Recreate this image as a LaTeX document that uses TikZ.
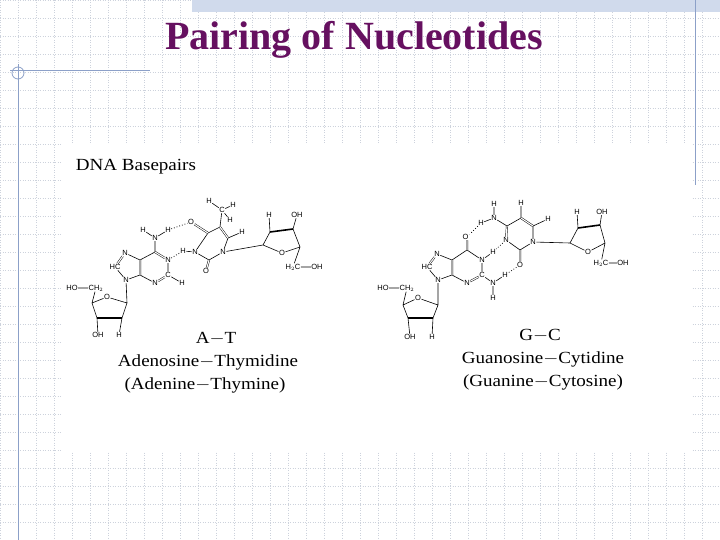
\documentclass[tikz,border=0pt]{standalone}
\usepackage{fontspec}
\setmainfont{Liberation Serif}
\newfontfamily\atomf{Liberation Sans}
\definecolor{titlec}{RGB}{102,16,96}
\definecolor{gridc}{RGB}{205,210,220}
\definecolor{linec}{RGB}{140,160,200}
\definecolor{bandc}{RGB}{208,218,236}
\tikzset{
  atom/.style={inner sep=0.4pt,font=\atomf\fontsize{7.5}{7.5}\selectfont},
  bond/.style={line width=0.6pt},
  dbl/.style={double,double distance=1.1pt,line width=0.45pt},
  hb/.style={dotted,line width=0.8pt},
  captext/.style={font=\fontsize{17}{19}\selectfont,xscale=1.12},
}
\begin{document}
\begin{tikzpicture}[x=1pt,y=-1pt]
\useasboundingbox (0,0) rectangle (720,540);
\fill[white] (0,0) rectangle (720,540);
% grid
\foreach \x in {0,18,...,720} \draw[gridc,dotted,line width=0.5pt] (\x,0) -- (\x,540);
\foreach \y in {0,18,...,540} \draw[gridc,dotted,line width=0.5pt] (0,\y) -- (720,\y);
\fill[bandc] (192,0) rectangle (720,12);
\draw[linec,line width=0.8pt] (695,0) -- (695,185);
\draw[linec,line width=0.8pt] (10,70) -- (150,70);
\draw[linec,line width=0.8pt] (18,64) -- (18,540);
\draw[linec,line width=0.8pt] (18,73) circle (6);
\node[font=\bfseries\fontsize{40}{44}\selectfont,text=titlec] (title) at (354,40) {Pairing of Nucleotides};
\fill[white] (62,143) rectangle (692,452);
\node[captext,anchor=west] (dna) at (72,167) {DNA Basepairs};
% ===== Adenine
\node[atom] (aN6) at (155,238) {N};
\node[atom] (aH6a) at (143,230) {H};
\node[atom] (aH6b) at (168,230) {H};
\coordinate (aC6) at (155,252);
\node[atom] (aN1) at (168,260) {N};
\node[atom] (aC2) at (168,275) {C};
\node[atom] (aH2) at (182,283) {H};
\node[atom] (aN3) at (155,283) {N};
\coordinate (aC4) at (140,275);
\coordinate (aC5) at (140,260);
\node[atom] (aN7) at (125,253) {N};
\node[atom] (aC8) at (115,267) {HC};
\node[atom] (aN9) at (126,280) {N};
\coordinate (as1) at (127,303);
\node[atom] (asO) at (107,297) {O};
\coordinate (as4) at (92,303);
\coordinate (as3) at (97,318);
\coordinate (as2) at (122,318);
\node[atom] (aCH2) at (96,288) {CH$_2$};
\node[atom] (aHO) at (72,288) {HO};
\node[atom] (aOH) at (98,335) {OH};
\node[atom] (aH3) at (119,335) {H};
\draw[bond] (aH6a)--(aN6)--(aH6b) (aN6)--(aC6) (aN1)--(aC2) (aN3)--(aC4) (aC6)--(aC5) (aC5)--(aN7) (aC8)--(aN9)--(aC4) (aC2)--(aH2);
\draw[dbl] (aC6)--(aN1) (aC2)--(aN3) (aC4)--(aC5) (aN7)--(aC8);
\draw[bond] (aN9)--(as1)--(as2) (as3)--(as4)--(asO)--(as1) (aHO)--(aCH2) (aCH2)--(as4) (as3)--(aOH) (as2)--(aH3);
\draw[line width=1.6pt] (as2)--(as3);
% ===== Thymine
\node[atom] (tN3) at (195,252) {N};
\node[atom] (tH3) at (183,251) {H};
\coordinate (tC4) at (208,233);
\node[atom] (tO4) at (191,222) {O};
\coordinate (tC5) at (220,227);
\node[atom] (tCM) at (222,210) {C};
\node[atom] (tHa) at (209,201) {H};
\node[atom] (tHb) at (233,205) {H};
\node[atom] (tHc) at (230,220) {H};
\coordinate (tC6) at (228,238);
\node[atom] (tH6) at (242,232) {H};
\node[atom] (tN1) at (223,252) {N};
\coordinate (tC2) at (209,260);
\node[atom] (tO2) at (206,271) {O};
\coordinate (ts1) at (263,245);
\node[atom] (tsO) at (282,253) {O};
\coordinate (ts4) at (300,247);
\coordinate (ts3) at (293,229);
\coordinate (ts2) at (270,232);
\node[atom] (tsH) at (269,215) {H};
\node[atom] (tsOH) at (297,215) {OH};
\node[atom] (tH2C) at (293,267) {H$_2$C};
\node[atom] (tOH5) at (317,267) {OH};
\draw[bond] (tH3)--(tN3)--(tC4)--(tC5) (tC6)--(tN1)--(tC2)--(tN3) (tC5)--(tCM) (tHa)--(tCM)--(tHb) (tCM)--(tHc) (tC6)--(tH6);
\draw[dbl] (tC5)--(tC6) (tC4)--(tO4) (tC2)--(tO2);
\draw[bond] (tN1)--(ts1)--(tsO)--(ts4)--(ts3) (ts2)--(ts1) (ts2)--(tsH) (ts3)--(tsOH) (ts4)--(tH2C)--(tOH5);
\draw[line width=1.6pt] (ts2)--(ts3);
\draw[hb] (aN1)--(tH3) (aH6b)--(tO4);
\node[captext] (lAT) at (216,339) {A$-$T};
\node[captext] (lAT2) at (208,362) {Adenosine$-$Thymidine};
\node[captext] (lAT3) at (205,385) {(Adenine$-$Thymine)};
% ===== Cytosine
\node[atom] (cN4) at (494,218) {N};
\node[atom] (cH4a) at (494,204) {H};
\node[atom] (cH4b) at (481,223) {H};
\coordinate (cC4) at (507,226);
\coordinate (cC5) at (521,218);
\node[atom] (cH5) at (521,203) {H};
\coordinate (cC6) at (533,226);
\node[atom] (cH6) at (548,219) {H};
\node[atom] (cN1) at (533,242) {N};
\coordinate (cC2) at (520,250);
\node[atom] (cO2) at (520,265) {O};
\node[atom] (cN3) at (506,240) {N};
\coordinate (cs1) at (570,243);
\node[atom] (csO) at (588,252) {O};
\coordinate (cs4) at (605,243);
\coordinate (cs3) at (600,225);
\coordinate (cs2) at (578,228);
\node[atom] (csH) at (577,212) {H};
\node[atom] (csOH) at (602,212) {OH};
\node[atom] (cH2C) at (601,263) {H$_2$C};
\node[atom] (cOH5) at (623,263) {OH};
\draw[bond] (cH4a)--(cN4)--(cH4b) (cN4)--(cC4) (cC4)--(cC5) (cC6)--(cN1)--(cC2)--(cN3) (cC5)--(cH5) (cC6)--(cH6);
\draw[dbl] (cC4)--(cN3) (cC5)--(cC6) (cC2)--(cO2);
\draw[bond] (cN1)--(cs1)--(csO)--(cs4)--(cs3) (cs2)--(cs1) (cs2)--(csH) (cs3)--(csOH) (cs4)--(cH2C)--(cOH5);
\draw[line width=1.6pt] (cs2)--(cs3);
% ===== Guanine
\node[atom] (gO6) at (467,237) {O$^{\cdot}$};
\coordinate (gC6) at (467,250);
\node[atom] (gN1) at (482,260) {N};
\node[atom] (gH1) at (493,252) {H};
\node[atom] (gC2) at (482,275) {C};
\node[atom] (gN2) at (493,283) {N};
\node[atom] (gH2a) at (505,275) {H};
\node[atom] (gH2b) at (493,298) {H};
\node[atom] (gN3) at (467,283) {N};
\coordinate (gC4) at (452,275);
\coordinate (gC5) at (452,260);
\node[atom] (gN7) at (437,254) {N};
\node[atom] (gC8) at (427,267) {HC};
\node[atom] (gN9) at (438,280) {N};
\coordinate (gs1) at (438,305);
\node[atom] (gsO) at (418,298) {O};
\coordinate (gs4) at (403,305);
\coordinate (gs3) at (408,318);
\coordinate (gs2) at (433,318);
\node[atom] (gCH2) at (407,288) {CH$_2$};
\node[atom] (gHO) at (383,288) {HO};
\node[atom] (gOH) at (410,337) {OH};
\node[atom] (gH3) at (432,337) {H};
\draw[bond] (gC6)--(gN1)--(gC2) (gN1)--(gH1) (gC2)--(gN2) (gH2a)--(gN2)--(gH2b) (gN3)--(gC4) (gC6)--(gC5) (gC5)--(gN7) (gC8)--(gN9)--(gC4);
\draw[dbl] (gC6)--(gO6) (gC2)--(gN3) (gC4)--(gC5) (gN7)--(gC8);
\draw[bond] (gN9)--(gs1)--(gs2) (gs3)--(gs4)--(gsO)--(gs1) (gHO)--(gCH2) (gCH2)--(gs4) (gs3)--(gOH) (gs2)--(gH3);
\draw[line width=1.6pt] (gs2)--(gs3);
\draw[hb] (cH4b)--(gO6) (cN3)--(gH1) (cO2)--(gH2a);
\node[captext] (lGC) at (540,336) {G$-$C};
\node[captext] (lGC2) at (543,359) {Guanosine$-$Cytidine};
\node[captext] (lGC3) at (543,382) {(Guanine$-$Cytosine)};
\end{tikzpicture}
\end{document}
